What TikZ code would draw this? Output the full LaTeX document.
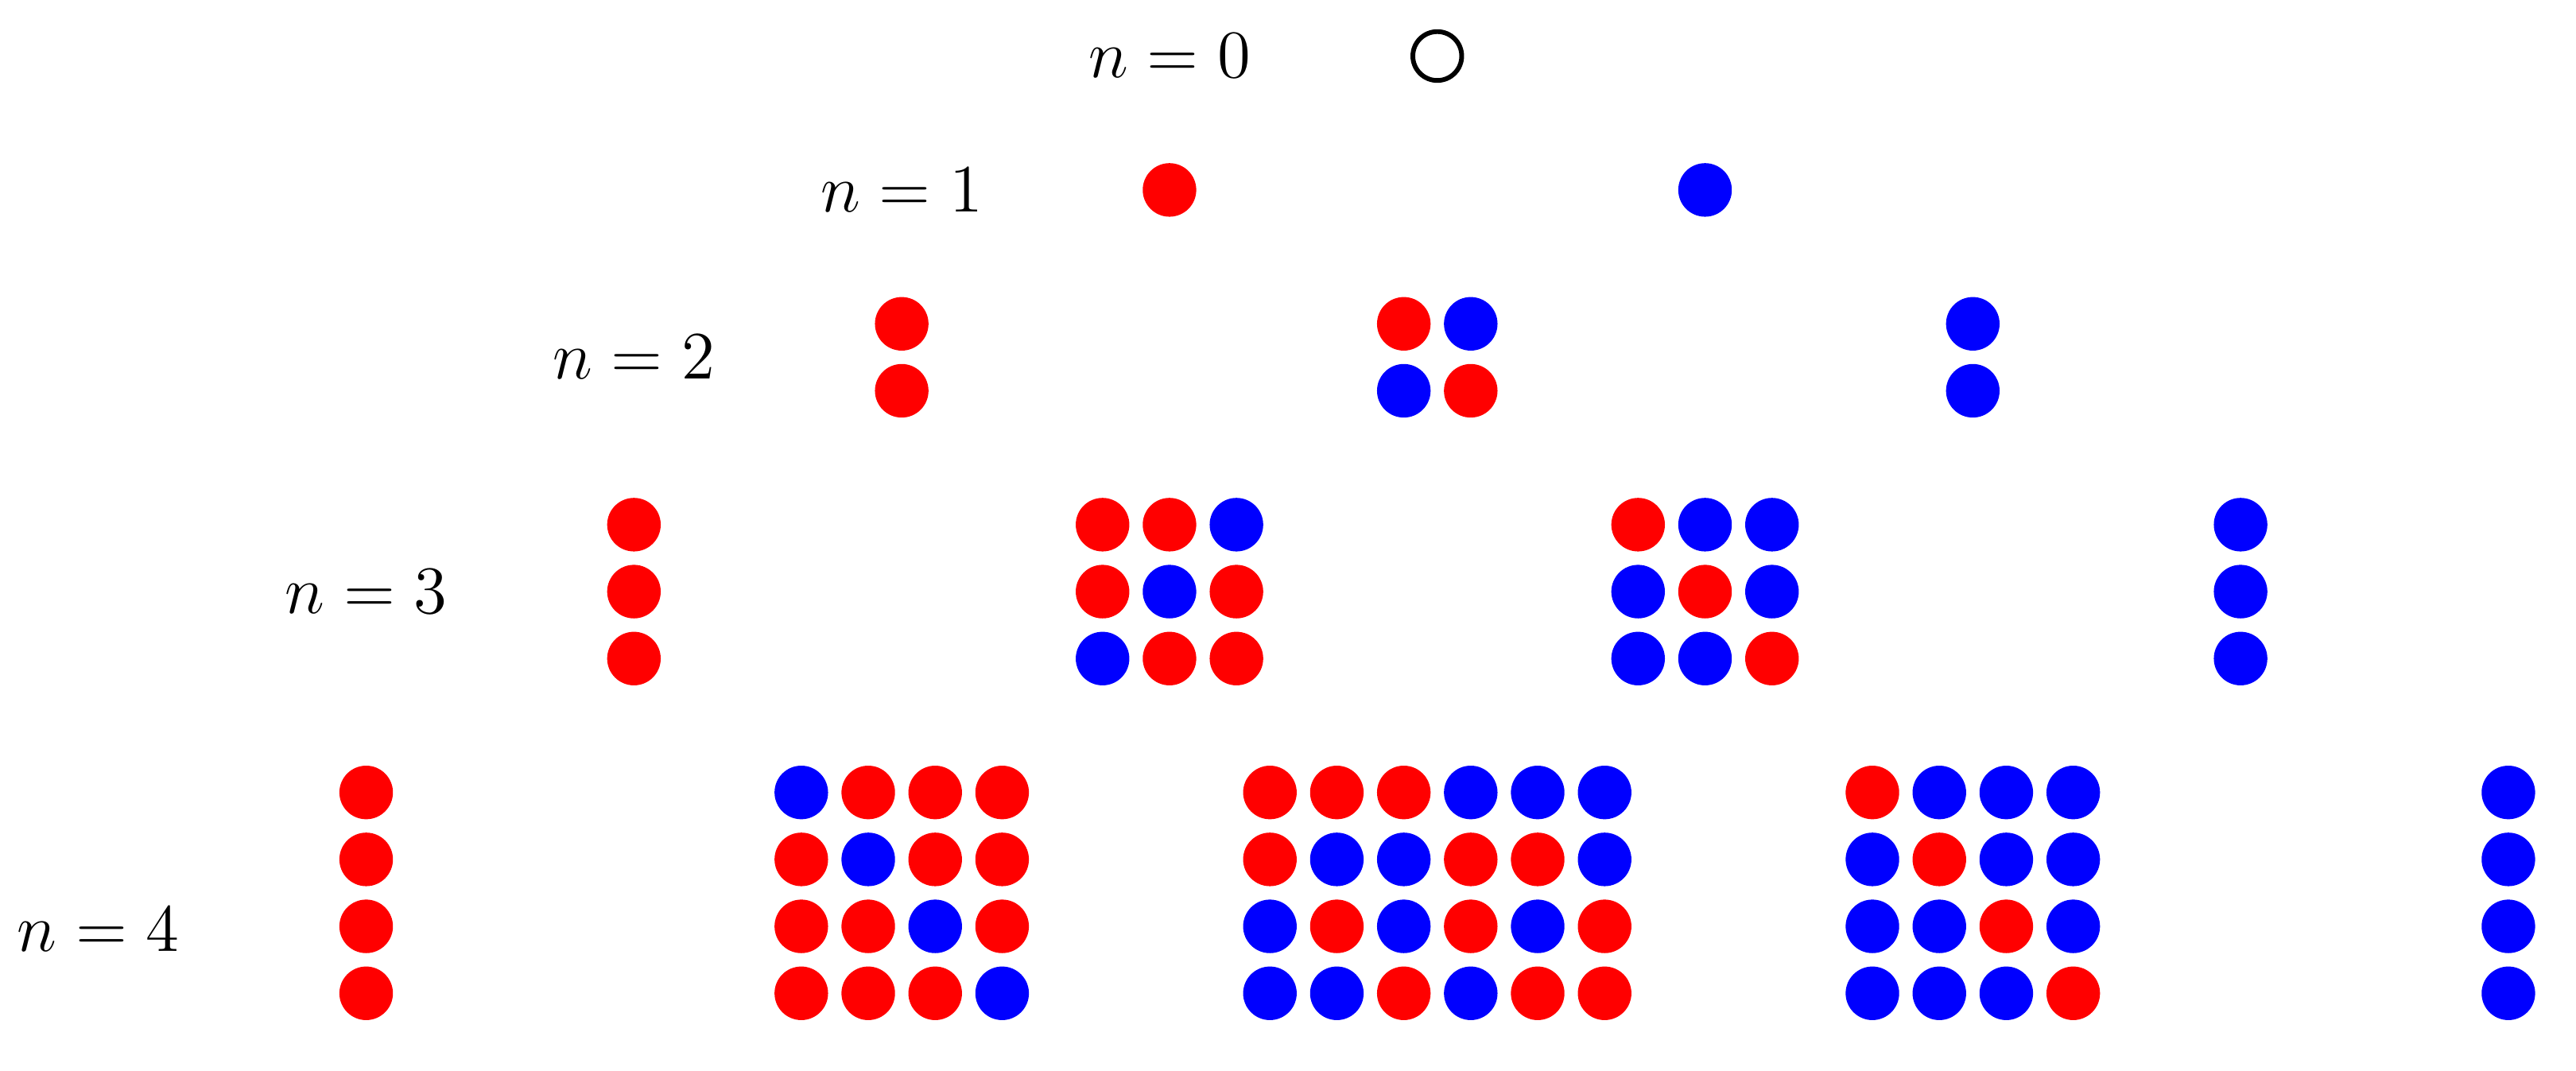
\documentclass[tikz,border=0pt]{standalone}
\usepackage{amsmath}
\usepackage{tikz}

\begin{document}
\begin{tikzpicture}[
    x=0.5cm, y=0.5cm,
    lbl/.style={font=\fontsize{13.7}{16}\selectfont, inner sep=0pt},
    R/.style={fill=red},
    B/.style={fill=blue},
    empty/.style={draw=black, line width=1pt}
]
\useasboundingbox (-21.47,-15.16) rectangle (17.01,0.837);

% Row labels
\node[lbl] (n0) at (-4,0) {$n = 0$};
\node[lbl] (n1) at (-8,-2) {$n = 1$};
\node[lbl] (n2) at (-12,-4.5) {$n = 2$};
\node[lbl] (n3) at (-16,-8) {$n = 3$};
\node[lbl] (n4) at (-20,-13.05) {$n = 4$};

% n = 0
\path[empty] (0,0) circle (0.365);

% n = 1
\path[R] (-4,-2) circle (0.4);
\path[B] (4,-2) circle (0.4);

% n = 2
\foreach \y in {-4,-5} \path[R] (-8,\y) circle (0.4);
\foreach \col [count=\i from 0] in {R,B, B,R}
  \path[\col] ({-0.5+mod(\i,2)},{-4-div(\i,2)}) circle (0.4);
\foreach \y in {-4,-5} \path[B] (8,\y) circle (0.4);

% n = 3
\foreach \y in {-7,-8,-9} \path[R] (-12,\y) circle (0.4);
\foreach \col [count=\i from 0] in {R,R,B, R,B,R, B,R,R}
  \path[\col] ({-5+mod(\i,3)},{-7-div(\i,3)}) circle (0.4);
\foreach \col [count=\i from 0] in {R,B,B, B,R,B, B,B,R}
  \path[\col] ({3+mod(\i,3)},{-7-div(\i,3)}) circle (0.4);
\foreach \y in {-7,-8,-9} \path[B] (12,\y) circle (0.4);

% n = 4
\foreach \y in {-11,-12,-13,-14} \path[R] (-16,\y) circle (0.4);
\foreach \col [count=\i from 0] in {B,R,R,R, R,B,R,R, R,R,B,R, R,R,R,B}
  \path[\col] ({-9.5+mod(\i,4)},{-11-div(\i,4)}) circle (0.4);
\foreach \col [count=\i from 0] in {R,R,R,B,B,B, R,B,B,R,R,B, B,R,B,R,B,R, B,B,R,B,R,R}
  \path[\col] ({-2.5+mod(\i,6)},{-11-div(\i,6)}) circle (0.4);
\foreach \col [count=\i from 0] in {R,B,B,B, B,R,B,B, B,B,R,B, B,B,B,R}
  \path[\col] ({6.5+mod(\i,4)},{-11-div(\i,4)}) circle (0.4);
\foreach \y in {-11,-12,-13,-14} \path[B] (16,\y) circle (0.4);

\end{tikzpicture}
\end{document}
